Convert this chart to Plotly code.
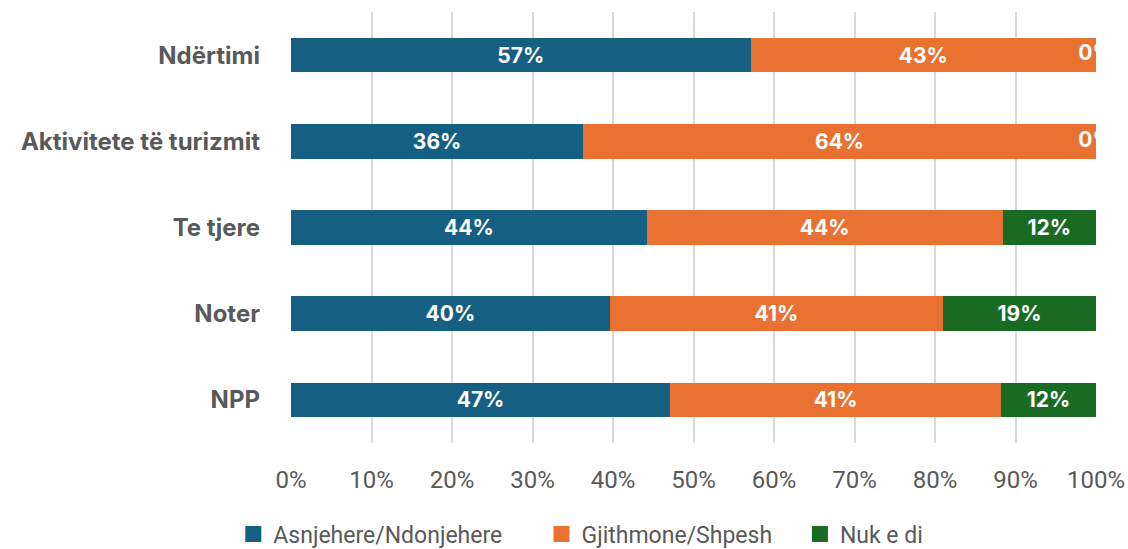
import plotly.graph_objects as go

# categories shown top to bottom
categories = ["Ndërtimi", "Aktivitete të turizmit", "Te tjere", "Noter", "NPP"]

# share of answers, percent
asnjehere = [57.1, 36.3, 44.2, 39.6, 47.1]
gjithmone = [42.9, 63.7, 44.2, 41.4, 41.1]
nuk_e_di = [0.0, 0.0, 11.6, 19.0, 11.8]

series_names = ["Asnjehere/Ndonjehere", "Gjithmone/Shpesh", "Nuk e di"]
colors = ["#156082", "#E97132", "#196B24"]
tick_vals = [0, 10, 20, 30, 40, 50, 60, 70, 80, 90, 100]
tick_text = [str(v) + "%" for v in tick_vals]

label_font = dict(family="Inter, sans-serif", size=21, color="white", weight="bold")
# extra room after each legend entry, as in the Excel legend
legend_pad = [6, 4, 0]


def main():
	fig = go.Figure()

	for name, vals, col in zip(series_names, [asnjehere, gjithmone, nuk_e_di], colors):
		fig.add_trace(go.Bar(
			y = categories,
			x = vals,
			name = name,
			orientation = "h",
			marker = dict(color = col, line = dict(width = 0)),
			text = [str(round(v)) + "%" for v in vals],
			textposition = "inside",
			insidetextanchor = "middle",
			textfont = label_font,
			constraintext = "none",
			showlegend = False,
		))

	# zero-width segments: Excel still draws the label, clipped at the plot edge
	zero_y = [c for c, v in zip(categories, nuk_e_di) if v == 0]
	zero_x = [a + g for a, g, v in zip(asnjehere, gjithmone, nuk_e_di) if v == 0]
	fig.add_trace(go.Scatter(
		y = zero_y,
		x = zero_x,
		mode = "text",
		text = ["0%"] * len(zero_y),
		textposition = "middle center",
		textfont = label_font,
		cliponaxis = True,
		showlegend = False,
		hoverinfo = "skip",
	))

	# legend only entries, for the bigger square swatches Excel uses
	for name, col, pad in zip(series_names, colors, legend_pad):
		fig.add_trace(go.Scatter(
			x = [None],
			y = [None],
			mode = "markers",
			name = name + "\u00a0" * pad,
			marker = dict(symbol = "square", size = 16, color = col),
			hoverinfo = "skip",
		))

	fig.update_layout(
		barmode = "stack",
		bargap = 0.6,
		width = 1128,
		height = 549,
		margin = dict(l = 291, r = 32, t = 12, b = 106, autoexpand = False),
		plot_bgcolor = "white",
		paper_bgcolor = "white",
		font = dict(family = "Roboto, sans-serif", size = 24, color = "#595959"),
		xaxis = dict(
			range = [0, 100],
			tickvals = tick_vals,
			ticktext = tick_text,
			showgrid = True,
			gridcolor = "#D9D9D9",
			gridwidth = 2,
			zeroline = False,
			showline = False,
			automargin = False,
			ticklabelstandoff = 20,
			tickfont = dict(size = 24, color = "#595959"),
			fixedrange = True,
		),
		yaxis = dict(
			autorange = "reversed",
			showgrid = False,
			automargin = False,
			ticklabelstandoff = 30,
			tickfont = dict(family = "Inter, sans-serif", size = 24, color = "#595959", weight = "bold"),
			fixedrange = True,
		),
		legend = dict(
			orientation = "h",
			x = 0.36,
			xanchor = "center",
			y = -0.211,
			yanchor = "middle",
			font = dict(size = 23, color = "#595959"),
			traceorder = "normal",
		),
	)

	# page body has an 8px default margin; drop it so the figure sits at 0,0
	fig.write_html("out.html", config = {"displayModeBar": False},
		post_script = "document.body.style.margin='0';")


if __name__ == "__main__":
	main()
